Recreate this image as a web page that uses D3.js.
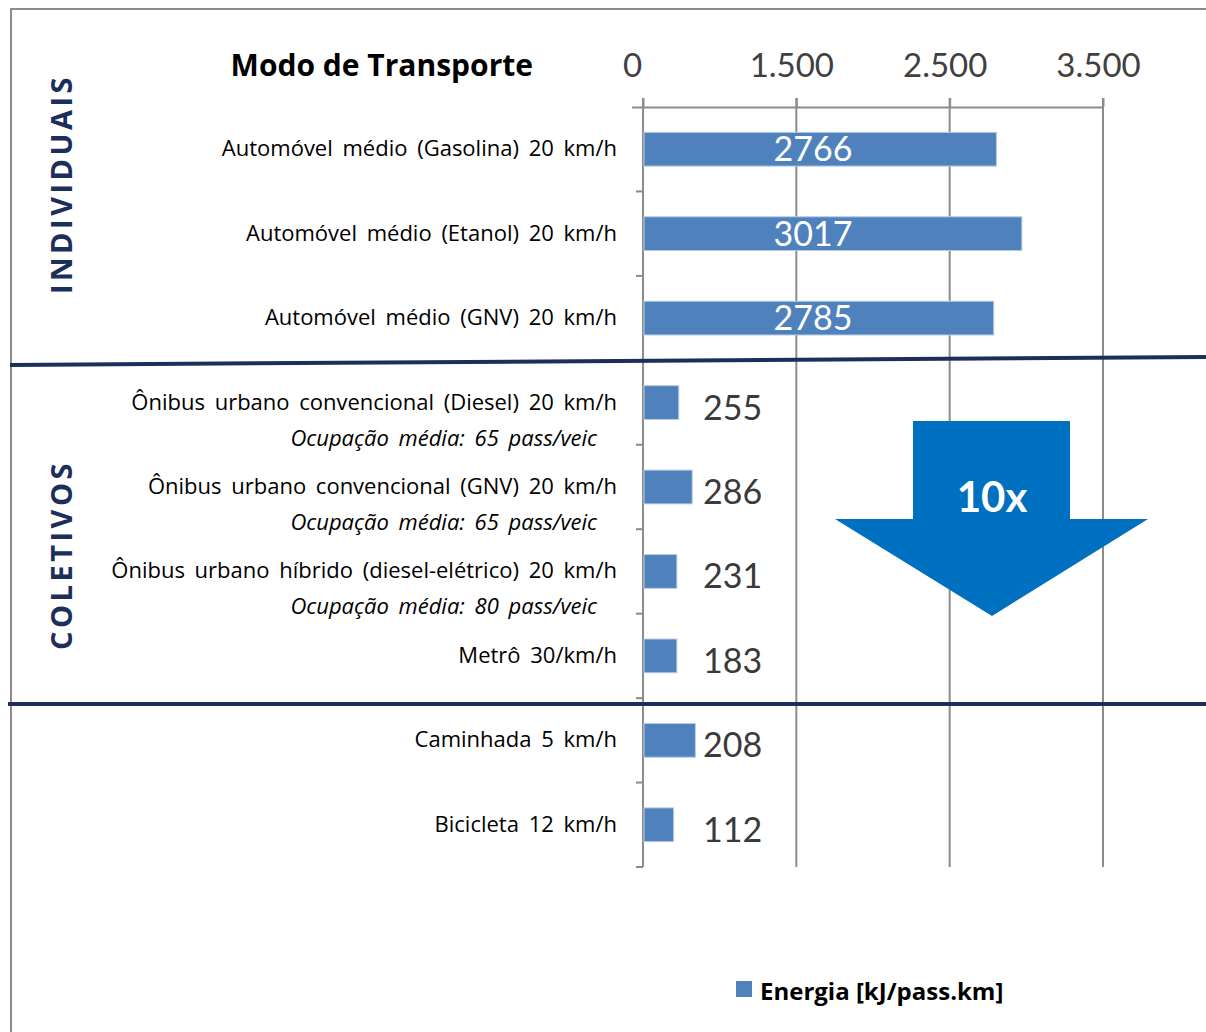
<!DOCTYPE html>
<html>
<head>
<meta charset="utf-8">
<script src="https://cdn.jsdelivr.net/npm/d3@7"></script>
<style>
  html, body { margin: 0; padding: 0; background: #fff; }
  svg { display: block; }
</style>
</head>
<body>
<div class="EnergyChart"></div>
<script>
// categories (top to bottom)
const modes = [
  "Automóvel médio (Gasolina) 20 km/h",
  "Automóvel médio (Etanol) 20 km/h",
  "Automóvel médio (GNV) 20 km/h",
  "Ônibus urbano convencional (Diesel) 20 km/h",
  "Ônibus urbano convencional (GNV) 20 km/h",
  "Ônibus urbano híbrido (diesel-elétrico) 20 km/h",
  "Metrô 30/km/h",
  "Caminhada 5 km/h",
  "Bicicleta 12 km/h"
]
const occupancy = [
  null, null, null,
  "Ocupação média: 65 pass/veic",
  "Ocupação média: 65 pass/veic",
  "Ocupação média: 80 pass/veic",
  null, null, null
]
// printed values (kJ/pass.km)
const energy = [2766, 3017, 2785, 255, 286, 231, 183, 208, 112]
// bar lengths as drawn in the picture, in axis units
const barLength = [2766, 2965, 2745, 280, 385, 265, 265, 410, 240]
// axis
const tickValues = [0, 1200, 2400, 3600]
const tickLabels = ["0", "1.500", "2.500", "3.500"]
const groups = [
  {name: "INDIVIDUAIS", y: 184},
  {name: "COLETIVOS", y: 555}
]
const legendLabel = "Energia [kJ/pass.km]"
const factor = "10x"

const width = 1206
const height = 1032
const margin = ({top: 107, right: 103, bottom: 165, left: 643})
const grey = "#8c8c8c"
const navy = "#1c2e5a"
const barColor = "#4f81bd"
const labelFont = "'Open Sans', sans-serif"

const x = d3.scaleLinear()
  .domain([0, 3600])
  .range([margin.left, width - margin.right])

const y = d3.scaleBand()
  .domain(modes)
  .range([margin.top, height - margin.bottom])
  .paddingInner(0.6)
  .paddingOuter(0.3)

const svg = d3.select(".EnergyChart").append("svg")
  .attr("width", width)
  .attr("height", height)
  .attr("viewBox", [0, 0, width, height])
  .style("font-family", "Lato, 'Open Sans', sans-serif")

// frame
svg.append("path")
  .attr("d", `M11,${height}V9H${width}`)
  .attr("fill", "none")
  .attr("stroke", grey)
  .attr("stroke-width", 2)

// grid
svg.append("g")
  .attr("stroke", grey)
  .attr("stroke-width", 2)
  .selectAll("line")
  .data(tickValues.slice(1))
  .join("line")
    .attr("x1", d => x(d))
    .attr("x2", d => x(d))
    .attr("y1", margin.top - 9)
    .attr("y2", height - margin.bottom)

// top axis
const xAxis = g => g
  .attr("transform", `translate(0,${margin.top})`)
  .call(d3.axisTop(x).tickValues(tickValues)
    .tickFormat((d, i) => tickLabels[i])
    .tickSizeInner(9).tickSizeOuter(0).tickPadding(21))
  .call(g => g.select(".domain").attr("stroke", grey).attr("stroke-width", 2)
    .attr("d", `M${x(0) - 11},0.5H${x(3600)}`))
  .call(g => g.selectAll(".tick line").attr("stroke", grey).attr("stroke-width", 2))
  .call(g => g.selectAll(".tick text")
    .attr("fill", "#404040")
    .attr("font-size", 33)
    .attr("font-family", "Lato, sans-serif")
    .attr("dx", (d, i) => i === 0 ? -11 : -5))

svg.append("g").call(xAxis)

// left axis
const boundaries = modes.map(m => y(m) - y.step() * y.paddingInner() / 2 + y.step())
svg.append("g")
  .attr("stroke", grey)
  .attr("stroke-width", 2)
  .call(g => g.append("line")
    .attr("x1", x(0)).attr("x2", x(0))
    .attr("y1", margin.top - 9).attr("y2", height - margin.bottom))
  .call(g => g.selectAll(".ytick")
    .data(boundaries)
    .join("line")
      .attr("class", "ytick")
      .attr("x1", x(0) - 7).attr("x2", x(0))
      .attr("y1", d => d).attr("y2", d => d))

// bars
svg.append("g")
  .selectAll("rect")
  .data(modes)
  .join("rect")
    .attr("x", x(0) + 1)
    .attr("y", d => y(d))
    .attr("width", (d, i) => x(barLength[i]) - x(0) - 1)
    .attr("height", y.bandwidth())
    .attr("fill", barColor)
    .attr("stroke", "#b9cde5")
    .attr("stroke-width", 1)

// value labels
svg.append("g")
  .attr("font-size", 34)
  .selectAll("text")
  .data(modes)
  .join("text")
    .attr("x", (d, i) => energy[i] > 1000 ? x(0) + 170 : x(0) + 60)
    .attr("y", (d, i) => y(d) + y.bandwidth() / 2 + (energy[i] > 1000 ? 12 : 17))
    .attr("text-anchor", (d, i) => energy[i] > 1000 ? "middle" : "start")
    .attr("fill", (d, i) => energy[i] > 1000 ? "#fff" : "#3a3a3a")
    .text((d, i) => energy[i])

// category labels
const labels = svg.append("g")
  .attr("text-anchor", "end")
  .attr("fill", "#000")
  .attr("font-size", 22)
  .attr("font-family", labelFont)
labels.selectAll(".name")
  .data(modes)
  .join("text")
    .attr("class", "name")
    .attr("x", x(0) - 26)
    .attr("y", d => y(d) + y.bandwidth() / 2 + 7)
    .style("word-spacing", "4px")
    .text(d => d)
labels.selectAll(".occ")
  .data(modes.filter((d, i) => occupancy[i]))
  .join("text")
    .attr("class", "occ")
    .attr("x", x(0) - 46)
    .attr("y", d => y(d) + y.bandwidth() / 2 + 43)
    .attr("font-style", "italic")
    .style("word-spacing", "4px")
    .text(d => occupancy[modes.indexOf(d)])

// header
svg.append("text")
  .attr("x", 533)
  .attr("y", 76)
  .attr("text-anchor", "end")
  .attr("font-size", 30)
  .attr("font-weight", "bold")
  .attr("font-family", labelFont)
  .text("Modo de Transporte")

// group names
svg.append("g")
  .selectAll("text")
  .data(groups)
  .join("text")
    .attr("transform", d => `translate(72,${d.y})rotate(-90)`)
    .attr("text-anchor", "middle")
    .attr("font-size", 29)
    .attr("font-weight", "bold")
    .attr("font-family", labelFont)
    .attr("letter-spacing", 3.5)
    .attr("fill", navy)
    .text(d => d.name)

// group separators
svg.append("g")
  .attr("stroke", navy)
  .attr("stroke-width", 4)
  .call(g => g.append("line").attr("x1", 10).attr("y1", 365).attr("x2", width).attr("y2", 357))
  .call(g => g.append("line").attr("x1", 8).attr("y1", 704).attr("x2", width).attr("y2", 704))

// 10x arrow
svg.append("path")
  .attr("d", "M913,421H1070V519H1148L992,616L835,519H913Z")
  .attr("fill", "#0070c0")
svg.append("text")
  .attr("x", 992)
  .attr("y", 512)
  .attr("text-anchor", "middle")
  .attr("font-size", 42)
  .attr("font-weight", "bold")
  .attr("fill", "#fff")
  .text(factor)

// legend
const legend = svg.append("g").attr("transform", "translate(736,981)")
legend.append("rect")
  .attr("width", 16).attr("height", 16)
  .attr("fill", barColor)
legend.append("text")
  .attr("x", 24)
  .attr("y", 19)
  .attr("font-size", 24)
  .attr("font-weight", "bold")
  .attr("font-family", labelFont)
  .text(legendLabel)
</script>
</body>
</html>
